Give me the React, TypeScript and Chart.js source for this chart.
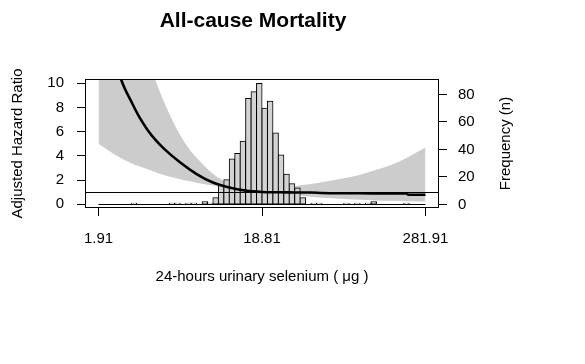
import React, { useEffect, useRef } from 'react';
import { Chart, registerables } from 'chart.js';

Chart.register(...registerables);

const chartTitle = 'All-cause Mortality';
const xAxisTitle = '24-hours urinary selenium ( μg )';
const yAxisTitle = 'Adjusted Hazard Ratio';
const y2AxisTitle = 'Frequency (n)';

// x is in log-scale tick units: 0 -> 1.91, 1 -> 18.81, 2 -> 281.91
const xTickPositions = [0, 1, 2];
const xTickLabels = ['1.91', '18.81', '281.91'];
const hrTicks = [0, 2, 4, 6, 8, 10];
const freqTicks = [0, 20, 40, 60, 80];

const xMin = -0.0826;
const xMax = 2.0826;
const hrMin = -0.306;
const hrMax = 10.355;
const freqMin = -2.545;
const freqMax = 91.27;

const referenceHR = 1;

// Hazard ratio curve
const curveX = [0, 0.05, 0.1, 0.15, 0.2, 0.25, 0.3, 0.35, 0.4, 0.5, 0.6, 0.7, 0.8, 0.9, 1.0, 1.1, 1.2, 1.3, 1.37, 1.45, 1.6, 1.75, 1.885, 1.895, 2.0];
const curveHR = [16.5, 14.0, 11.8, 9.9, 8.5, 7.2, 6.15, 5.3, 4.6, 3.45, 2.5, 1.8, 1.38, 1.13, 1.02, 0.99, 0.98, 0.97, 0.93, 0.91, 0.91, 0.9, 0.9, 0.79, 0.79];

// Confidence band
const bandX = [0, 0.1, 0.2, 0.25, 0.3, 0.35, 0.4, 0.45, 0.5, 0.55, 0.6, 0.7, 0.75, 0.8, 0.9, 1.0, 1.1, 1.2, 1.3, 1.4, 1.5, 1.6, 1.7, 1.8, 1.9, 2.0];
const bandUpper = [41, 27.5, 18.5, 15.2, 12.4, 10.2, 8.5, 7.0, 5.7, 4.65, 3.84, 2.52, 2.05, 1.7, 1.3, 1.16, 1.3, 1.5, 1.68, 1.9, 2.15, 2.45, 2.85, 3.3, 3.95, 4.7];
const bandLower = [5.0, 4.1, 3.4, 3.14, 2.9, 2.65, 2.42, 2.23, 2.07, 1.92, 1.79, 1.56, 1.42, 1.28, 1.05, 0.9, 0.84, 0.74, 0.63, 0.52, 0.44, 0.37, 0.32, 0.29, 0.26, 0.24];

// Histogram (frequency)
const histStart = 0;
const histBinWidth = 1 / 30;
const histCounts = [
  0, 0, 0, 0, 0, 0, 1, 0, 0, 0,
  0, 0, 0, 1, 1, 0, 1, 1, 0, 2,
  1, 5, 14, 18, 33, 37, 46, 77, 82, 88,
  70, 75, 52, 36, 22, 15, 12, 5, 0, 1,
  1, 0, 0, 0, 0, 1, 0, 1, 0, 1,
  2, 0, 0, 0, 0, 0, 1, 0, 0, 0,
];

const FONT = '"Liberation Sans", Arial, Helvetica, sans-serif';

const framePlugin = {
  id: 'framePlugin',
  afterDatasetsDraw(chart: any) {
    const { ctx, chartArea: a, scales } = chart;
    const yRef = Math.floor(scales.y.getPixelForValue(referenceHR)) + 0.5;
    ctx.save();
    ctx.strokeStyle = '#000';
    ctx.lineWidth = 1;
    ctx.beginPath();
    ctx.moveTo(a.left, yRef);
    ctx.lineTo(a.right, yRef);
    ctx.stroke();
    ctx.strokeRect(a.left + 0.5, a.top + 0.5, a.right - a.left - 1, a.bottom - a.top - 1);
    ctx.restore();
  },
  afterDraw(chart: any) {
    const { ctx, chartArea: a } = chart;
    ctx.save();
    ctx.translate(a.right + 67, (a.top + a.bottom) / 2);
    ctx.rotate(-Math.PI / 2);
    ctx.font = `15px ${FONT}`;
    ctx.fillStyle = '#000';
    ctx.textAlign = 'center';
    ctx.textBaseline = 'middle';
    ctx.fillText(y2AxisTitle, 0, 0);
    ctx.restore();
  },
};

export default function App() {
  const ref = useRef<HTMLCanvasElement>(null);

  useEffect(() => {
    Chart.defaults.font.family = FONT;
    Chart.defaults.color = '#000';

    const histData = histCounts.map((c, j) => ({
      x: histStart + (j + 0.5) * histBinWidth,
      y: c > 0 ? c : null,
    }));
    const histEnd = histStart + histCounts.length * histBinWidth;

    const chart = new Chart(ref.current as HTMLCanvasElement, {
      type: 'bar',
      data: {
        datasets: [
          {
            type: 'line',
            label: 'lower',
            data: bandX.map((x, i) => ({ x, y: bandLower[i] })),
            yAxisID: 'y',
            borderWidth: 0,
            pointRadius: 0,
            cubicInterpolationMode: 'monotone',
            fill: false,
            order: 5,
          },
          {
            type: 'line',
            label: 'upper',
            data: bandX.map((x, i) => ({ x, y: bandUpper[i] })),
            yAxisID: 'y',
            borderWidth: 0,
            pointRadius: 0,
            cubicInterpolationMode: 'monotone',
            backgroundColor: '#CCCCCC',
            fill: '-1',
            order: 5,
          },
          {
            type: 'bar',
            label: 'Frequency',
            data: histData,
            yAxisID: 'y2',
            backgroundColor: '#D3D3D3',
            borderColor: '#000',
            borderWidth: 1,
            borderSkipped: false,
            inflateAmount: 0.5,
            barPercentage: 1,
            categoryPercentage: 1,
            order: 3,
          },
          {
            type: 'line',
            label: 'baseline',
            data: [{ x: histStart, y: 0 }, { x: histEnd, y: 0 }],
            yAxisID: 'y2',
            borderColor: '#000',
            borderWidth: 1,
            pointRadius: 0,
            fill: false,
            order: 2,
          },
          {
            type: 'line',
            label: 'HR',
            data: curveX.map((x, i) => ({ x, y: curveHR[i] })),
            yAxisID: 'y',
            borderColor: '#000',
            borderWidth: 2.6,
            pointRadius: 0,
            cubicInterpolationMode: 'monotone',
            fill: false,
            order: 1,
          },
        ],
      } as any,
      options: {
        responsive: false,
        animation: false,
        events: [],
        layout: { padding: { left: 0, right: 79, top: 0, bottom: 0 } },
        plugins: {
          legend: { display: false },
          tooltip: { enabled: false },
          title: {
            display: true,
            text: chartTitle,
            color: '#000',
            font: { size: 21, weight: 'bold', family: FONT },
            padding: { top: 9, bottom: 44.8 },
          },
        },
        scales: {
          x: {
            type: 'linear',
            min: xMin,
            max: xMax,
            offset: false,
            afterBuildTicks: (s: any) => {
              s.ticks = xTickPositions.map((v) => ({ value: v }));
            },
            afterFit: (s: any) => {
              s.height = 156;
            },
            ticks: {
              callback: (_v: any, i: number) => xTickLabels[i],
              autoSkip: false,
              maxRotation: 0,
              padding: 14,
              font: { size: 15 },
              color: '#000',
            },
            grid: { display: true, drawOnChartArea: false, drawTicks: true, tickLength: 8, color: '#000', offset: false },
            border: { display: false },
            title: { display: true, text: xAxisTitle, color: '#000', font: { size: 15 }, padding: { top: 0, bottom: 78 } },
          },
          y: {
            type: 'linear',
            position: 'left',
            min: hrMin,
            max: hrMax,
            afterBuildTicks: (s: any) => {
              s.ticks = hrTicks.map((v) => ({ value: v }));
            },
            afterFit: (s: any) => {
              s.width = 85;
            },
            ticks: { padding: 13, font: { size: 15 }, color: '#000' },
            grid: { display: true, drawOnChartArea: false, drawTicks: true, tickLength: 8, color: '#000' },
            border: { display: false },
            title: { display: true, text: yAxisTitle, color: '#000', font: { size: 15 }, padding: { top: 9, bottom: 0 } },
          },
          y2: {
            type: 'linear',
            position: 'right',
            min: freqMin,
            max: freqMax,
            afterBuildTicks: (s: any) => {
              s.ticks = freqTicks.map((v) => ({ value: v }));
            },
            afterFit: (s: any) => {
              s.width = 67;
            },
            ticks: { padding: 11, font: { size: 15 }, color: '#000' },
            grid: { display: true, drawOnChartArea: false, drawTicks: true, tickLength: 8, color: '#000' },
            border: { display: false },
          },
        },
      } as any,
      plugins: [framePlugin],
    });

    return () => chart.destroy();
  }, []);

  return (
    <canvas
      ref={ref}
      width={585}
      height={364}
      style={{ position: 'absolute', left: 0, top: 0, width: 585, height: 364 }}
    />
  );
}
